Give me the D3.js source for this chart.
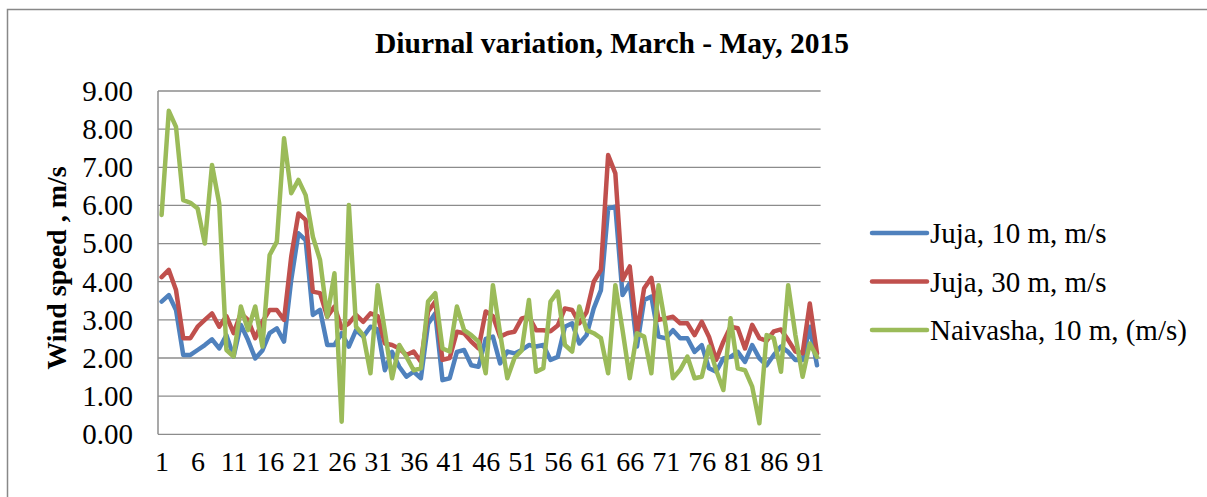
<!DOCTYPE html>
<html>
<head>
<meta charset="utf-8">
<script src="https://cdn.jsdelivr.net/npm/d3@7"></script>
<style>
  body { margin: 0; background: #fff; }
  text { font-family: "Liberation Serif", "Times New Roman", serif; fill: #000; }
</style>
</head>
<body>
<script>
var days = d3.range(1, 93);
var tickDays = d3.range(1, 93, 5);
var yTicks = [0, 1, 2, 3, 4, 5, 6, 7, 8, 9];

var juja10 = [3.48, 3.65, 3.26, 2.08, 2.08, 2.21, 2.34, 2.49, 2.25, 2.6,
  2.04, 2.87, 2.47, 1.99, 2.2, 2.65, 2.78, 2.43, 4.05, 5.27,
  5.09, 3.13, 3.26, 2.34, 2.34, 2.65, 2.3, 2.73, 2.56, 2.82,
  2.75, 1.68, 2.16, 1.77, 1.51, 1.64, 1.47, 2.9, 3.17, 1.42,
  1.47, 2.16, 2.21, 1.81, 1.77, 2.5, 2.56, 1.86, 2.17, 2.12,
  2.21, 2.34, 2.3, 2.34, 1.95, 2.03, 2.82, 2.91, 2.38, 2.6,
  3.3, 3.78, 5.92, 5.97, 3.65, 3.96, 2.3, 3.52, 3.61, 2.56,
  2.52, 2.73, 2.52, 2.52, 2.16, 2.34, 1.73, 1.64, 1.99, 2.03,
  2.16, 1.9, 2.34, 1.99, 1.81, 2.08, 2.3, 2.16, 1.95, 1.95,
  2.82, 1.81];

var juja30 = [4.12, 4.31, 3.78, 2.52, 2.52, 2.82, 3.0, 3.17, 2.82, 3.1,
  2.65, 3.17, 3.0, 2.52, 2.95, 3.26, 3.26, 3.0, 4.66, 5.79,
  5.62, 3.74, 3.7, 3.08, 3.35, 2.78, 2.91, 3.13, 2.95, 3.17,
  3.1, 2.38, 2.34, 2.25, 2.08, 2.17, 1.9, 3.22, 3.48, 1.95,
  2.0, 2.69, 2.65, 2.43, 2.25, 3.22, 3.1, 2.56, 2.65, 2.69,
  3.04, 3.08, 2.73, 2.73, 2.7, 2.85, 3.3, 3.26, 2.91, 3.2,
  4.0, 4.31, 7.32, 6.84, 4.05, 4.4, 2.65, 3.83, 4.1, 3.0,
  3.04, 3.08, 2.91, 2.91, 2.6, 2.95, 2.56, 1.95, 2.43, 2.82,
  2.78, 2.25, 2.87, 2.52, 2.45, 2.7, 2.75, 2.47, 2.17, 2.12,
  3.43, 2.12];

var naivasha10 = [5.75, 8.48, 8.06, 6.14, 6.07, 5.92, 5.0, 7.06, 6.05, 2.21,
  2.04, 3.35, 2.73, 3.35, 2.3, 4.7, 5.05, 7.76, 6.32, 6.67,
  6.27, 5.18, 4.57, 3.08, 4.22, 0.33, 6.01, 2.82, 2.6, 1.6,
  3.91, 2.7, 1.47, 2.34, 2.03, 1.68, 1.73, 3.48, 3.7, 2.25,
  2.17, 3.35, 2.73, 2.6, 2.43, 1.6, 3.91, 2.65, 1.47, 2.0,
  2.2, 3.52, 1.64, 1.73, 3.48, 3.74, 2.34, 2.17, 3.35, 2.73,
  2.65, 2.52, 1.6, 3.91, 2.73, 1.47, 2.65, 2.56, 1.6, 3.91,
  2.82, 1.47, 1.69, 2.04, 1.47, 1.51, 2.3, 1.68, 1.16, 3.04,
  1.73, 1.68, 1.25, 0.29, 2.6, 2.52, 1.64, 3.91, 2.6, 1.51,
  2.38, 2.03];

var seriesNames = ["Juja, 10 m, m/s", "Juja, 30 m, m/s", "Naivasha, 10 m, (m/s)"];
var seriesColors = ["#4f81bd", "#c0504d", "#9bbb59"];
var seriesValues = [juja10, juja30, naivasha10];

var width = 1207, height = 497;
var plot = {left: 158, right: 820.6, top: 91, bottom: 434.3};

var svg = d3.select("body").append("svg")
  .attr("width", width)
  .attr("height", height);

// outer chart frame
svg.append("path")
  .attr("d", "M7.5," + height + "V9.5H" + width)
  .attr("fill", "none")
  .attr("stroke", "#888")
  .attr("stroke-width", 1.5);

var x = d3.scalePoint()
  .domain(days)
  .range([plot.left, plot.right])
  .padding(0.5);

var y = d3.scaleLinear()
  .domain([0, 9])
  .range([plot.bottom, plot.top]);

// gridlines
svg.append("g")
  .selectAll("line")
  .data(yTicks)
  .enter()
  .append("line")
  .attr("x1", plot.left)
  .attr("x2", plot.right)
  .attr("y1", function(d){return y(d)})
  .attr("y2", function(d){return y(d)})
  .attr("stroke", "#8c8c8c")
  .attr("stroke-width", 1.3);

// axis line
svg.append("line")
  .attr("x1", plot.left).attr("x2", plot.left)
  .attr("y1", plot.top).attr("y2", plot.bottom)
  .attr("stroke", "#8c8c8c").attr("stroke-width", 1.5);

var yAxis = svg.append("g")
  .attr("transform", "translate(" + plot.left + ",0)")
  .call(d3.axisLeft(y).tickValues(yTicks).tickFormat(d3.format(".2f")).tickSize(0).tickPadding(25));
yAxis.select(".domain").remove();
yAxis.selectAll("text")
  .style("font-family", "Liberation Serif")
  .style("font-size", "29px");

var xAxis = svg.append("g")
  .attr("transform", "translate(0," + plot.bottom + ")")
  .call(d3.axisBottom(x).tickValues(tickDays).tickSize(0).tickPadding(17));
xAxis.select(".domain").remove();
xAxis.selectAll("text")
  .style("font-family", "Liberation Serif")
  .style("font-size", "28px");

// series
var line = d3.line()
  .x(function(d, i){return x(days[i])})
  .y(function(d){return y(d)});

svg.append("g")
  .selectAll("path")
  .data(seriesValues)
  .enter()
  .append("path")
  .attr("d", line)
  .attr("fill", "none")
  .attr("stroke", function(d, i){return seriesColors[i]})
  .attr("stroke-width", 4.5)
  .attr("stroke-linejoin", "round")
  .attr("stroke-linecap", "round");

// title
svg.append("text")
  .attr("x", 612)
  .attr("y", 53)
  .attr("text-anchor", "middle")
  .style("font-size", "29.5px")
  .style("font-weight", "bold")
  .text("Diurnal variation, March - May, 2015");

// y axis title
svg.append("text")
  .attr("transform", "translate(66,268) rotate(-90)")
  .attr("text-anchor", "middle")
  .style("font-size", "28px")
  .style("font-weight", "bold")
  .text("Wind speed , m/s");

// legend
var legend = svg.append("g")
  .selectAll("g")
  .data(seriesNames)
  .enter()
  .append("g")
  .attr("transform", function(d, i){return "translate(872," + (233 + i * 48.5) + ")"});

legend.append("line")
  .attr("x1", 0).attr("x2", 55)
  .attr("stroke", function(d, i){return seriesColors[i]})
  .attr("stroke-width", 4.5)
  .attr("stroke-linecap", "round");

legend.append("text")
  .attr("x", 58)
  .attr("y", 10)
  .style("font-size", "29px")
  .text(function(d){return d});
</script>
</body>
</html>
